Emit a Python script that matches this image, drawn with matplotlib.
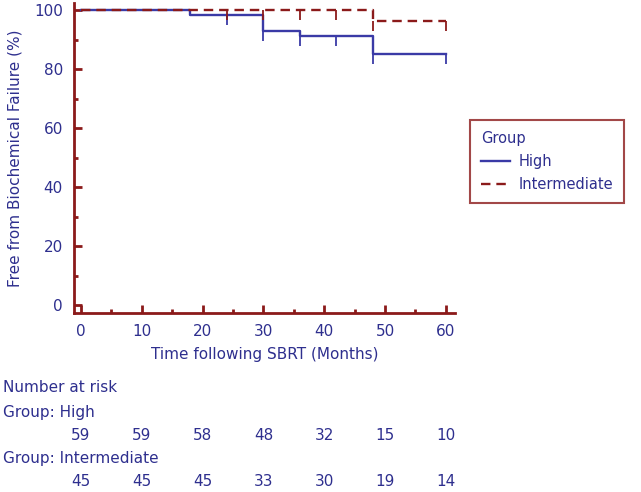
import numpy as np
import matplotlib.pyplot as plt
import matplotlib.transforms as mtransforms

# Kaplan-Meier steps (months, % free from failure)
high_t = [0, 18, 30, 36, 48, 60]
high_s = [100, 98.3, 92.8, 91.1, 85.0, 85.0]
inter_t = [0, 48, 60]
inter_s = [100, 96.2, 96.2]

# censor marks
high_cens_t = [24, 30, 36, 42, 48, 60]
high_cens_s = [98.3, 92.8, 91.1, 91.1, 85.0, 85.0]
inter_cens_t = [24, 30, 36, 42, 48, 60]
inter_cens_s = [100, 100, 100, 100, 96.2, 96.2]

risk_times = [0, 10, 20, 30, 40, 50, 60]
risk_high = [59, 59, 58, 48, 32, 15, 10]
risk_inter = [45, 45, 45, 33, 30, 19, 14]

AXC = '#8B1A1A'
TXT = '#2E2F8E'
BLUE = '#3A3AA6'
RED = '#8B1A1A'
FS = 11

fig = plt.figure(figsize=(6.41, 4.92), dpi=100)
ax = fig.add_axes([0.1154, 0.3638, 0.5944, 0.6302])

ax.step(high_t, high_s, where='post', color=BLUE, lw=1.7, label='High')
ax.step(inter_t, inter_s, where='post', color=RED, lw=1.7, ls=(0, (4, 2.5)),
        label='Intermediate')
ax.plot(high_cens_t, high_cens_s, ls='none', marker=3, ms=7, mew=1.3, color=BLUE)
ax.plot(inter_cens_t, inter_cens_s, ls='none', marker=3, ms=7, mew=1.3, color=RED)

ax.set_xlim(-1.15, 61.5)
ax.set_ylim(-2.7, 102.4)
ax.set_xticks(np.arange(0, 61, 10))
ax.set_xticks(np.arange(5, 60, 10), minor=True)
ax.set_yticks(np.arange(0, 101, 20))
ax.set_yticks(np.arange(10, 100, 20), minor=True)

for s in ['top', 'right']:
    ax.spines[s].set_visible(False)
for s in ['left', 'bottom']:
    ax.spines[s].set_color(AXC)
    ax.spines[s].set_linewidth(2)
ax.tick_params(which='major', direction='in', length=6, width=2, color=AXC,
               labelcolor=TXT, labelsize=FS, pad=8)
ax.tick_params(which='minor', direction='in', length=3, width=2, color=AXC)

ax.set_xlabel('Time following SBRT (Months)', color=TXT, fontsize=FS, labelpad=6)
ax.set_ylabel('Free from Biochemical Failure (%)', color=TXT, fontsize=FS, labelpad=8)

leg = fig.legend(loc='upper left', bbox_to_anchor=(0.733, 1 - 120 / 492), title='Group',
                 fontsize=10.5, title_fontsize=10.5, frameon=True, fancybox=False,
                 edgecolor=AXC, handlelength=2.0, handletextpad=0.6, borderpad=0.75,
                 labelspacing=0.55, borderaxespad=0, alignment='left')
leg.get_frame().set_linewidth(1.5)
for t in leg.get_texts():
    t.set_color(TXT)
leg.get_title().set_color(TXT)

fig.text(0.005, 1 - 388 / 492, 'Number at risk', color=TXT, fontsize=FS, va='center')
fig.text(0.005, 1 - 413 / 492, 'Group: High', color=TXT, fontsize=FS, va='center')
fig.text(0.005, 1 - 459 / 492, 'Group: Intermediate', color=TXT, fontsize=FS, va='center')
tr = mtransforms.blended_transform_factory(ax.transData, fig.transFigure)
for t, a, b in zip(risk_times, risk_high, risk_inter):
    ax.text(t, 1 - 436 / 492, str(a), transform=tr, ha='center', va='center',
            color=TXT, fontsize=FS)
    ax.text(t, 1 - 482 / 492, str(b), transform=tr, ha='center', va='center',
            color=TXT, fontsize=FS)

fig.savefig('out.png', dpi=100)
